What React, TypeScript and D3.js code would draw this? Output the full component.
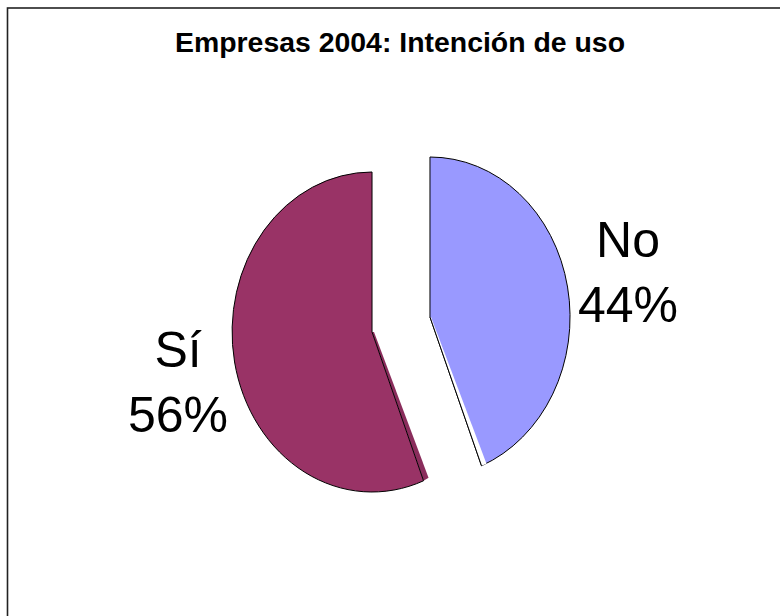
import React from "react";
import * as d3 from "d3";

const title = "Empresas 2004: Intención de uso";
const categories = ["No", "Sí"];
const values = [44, 56];
const percentLabels = ["44%", "56%"];
const colors = ["#9999FF", "#993366"];

const W = 780;
const H = 616;
const cx = 401;
const cy = 324.5;
const rx = 140;
const ry = 160;
const explodeX = 29.5;
const explodeY = 40;

export default function App() {
  const pie = d3.pie<number>().sort(null).value((d) => d);
  const arcs = pie(values);
  const unitArc = d3.arc<d3.PieArcDatum<number>>().innerRadius(0).outerRadius(1);

  const labelPos = [
    { x: 628, y1: 257, y2: 322 },
    { x: 178, y1: 367, y2: 432 },
  ];

  return (
    <svg
      width={W}
      height={H}
      style={{ position: "absolute", left: 0, top: 0, background: "#fff" }}
      fontFamily="'Liberation Sans', Arial, sans-serif"
    >
      <rect x={7.5} y={8} width={W} height={H} fill="#fff" stroke="#222" strokeWidth={1.6} />
      <text
        x={400}
        y={52}
        textAnchor="middle"
        fontSize={28}
        fontWeight="bold"
        textLength={450}
        lengthAdjust="spacingAndGlyphs"
        fill="#000"
      >
        {title}
      </text>
      {arcs.map((a, i) => {
        const mid = (a.startAngle + a.endAngle) / 2;
        const ox = cx + Math.sin(mid) * explodeX;
        const oy = cy - Math.cos(mid) * explodeY;
        const edgeAng = i === 0 ? a.endAngle : a.startAngle;
        const ex = Math.sin(edgeAng) * rx;
        const ey = -Math.cos(edgeAng) * ry;
        const sidePts =
          i === 1
            ? `0,0 ${ex},${ey} ${ex + 5},${ey - 3} 2,0`
            : `0,0 ${ex},${ey} ${ex + 5},${ey - 2} 1,0`;
        return (
          <g key={categories[i]} transform={`translate(${ox},${oy})`}>
            {i === 1 && <polygon points={sidePts} fill="#8a2d5c" />}
            <g transform={`scale(${rx},${ry})`}>
              <path
                d={unitArc(a) || ""}
                fill={colors[i]}
                stroke="#000"
                strokeWidth={1}
                vectorEffect="non-scaling-stroke"
                strokeLinejoin="round"
              />
            </g>
            {i === 0 && (
              <>
                <polygon points={sidePts} fill="#fff" />
                <line x1={0} y1={0} x2={ex} y2={ey} stroke="#000" strokeWidth={1} />
              </>
            )}
          </g>
        );
      })}
      {categories.map((c, i) => (
        <g key={"lbl" + c}>
          <text x={labelPos[i].x} y={labelPos[i].y1} textAnchor="middle" fontSize={50} fill="#000">
            {c}
          </text>
          <text x={labelPos[i].x} y={labelPos[i].y2} textAnchor="middle" fontSize={50} fill="#000">
            {percentLabels[i]}
          </text>
        </g>
      ))}
    </svg>
  );
}
